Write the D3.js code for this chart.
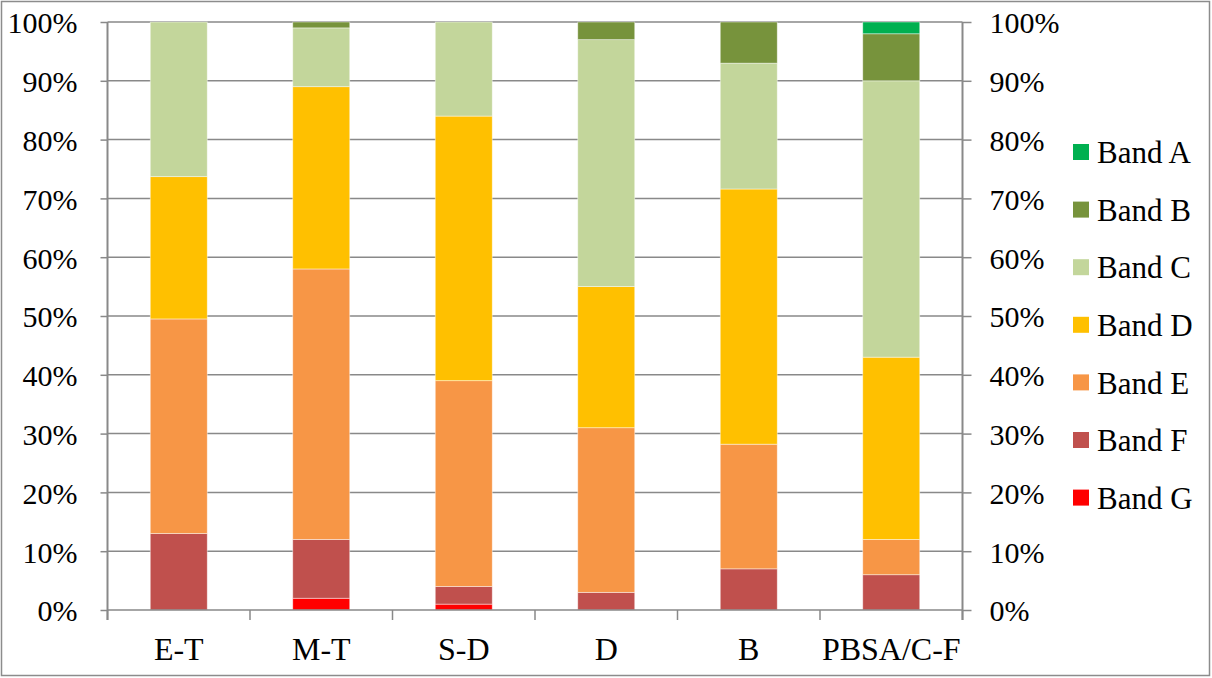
<!DOCTYPE html>
<html>
<head>
<meta charset="utf-8">
<script src="https://cdn.jsdelivr.net/npm/d3@7"></script>
<style>
  html, body { margin: 0; padding: 0; background: #fff; }
  svg { display: block; }
  text { font-family: "Liberation Serif", "Times New Roman", serif; fill: #000; }
</style>
</head>
<body>
<svg id="chart" width="1212" height="678"></svg>
<script>
// Property types along the x axis
const categories = ["E-T", "M-T", "S-D", "D", "B", "PBSA/C-F"];

// Share of each energy band per property type (percent)
const bandA = [0, 0, 0, 0, 0, 2];
const bandB = [0, 1, 0, 3, 7, 8];
const bandC = [26.3, 10, 16, 42, 21.4, 47];
const bandD = [24.2, 31, 45, 24, 43.4, 31];
const bandE = [36.5, 46, 35, 28, 21.2, 6];
const bandF = [13, 10, 3, 3, 7, 6];
const bandG = [0, 2, 1, 0, 0, 0];

const bandNames = ["Band A", "Band B", "Band C", "Band D", "Band E", "Band F", "Band G"];
const bandColors = ["#00B050", "#77933C", "#C3D69B", "#FFC000", "#F79646", "#C0504D", "#FF0000"];
const bandValues = [bandA, bandB, bandC, bandD, bandE, bandF, bandG];

const tickValues = [0, 10, 20, 30, 40, 50, 60, 70, 80, 90, 100];

// Rows for the stack: one object per category
const rows = categories.map((c, i) => {
  const r = { category: c };
  bandNames.forEach((b, j) => { r[b] = bandValues[j][i]; });
  return r;
});

const svg = d3.select("#chart");
const gridColor = "#898989";

// Outer frame
svg.append("rect")
  .attr("x", 1.5).attr("y", 1.5)
  .attr("width", 1208).attr("height", 674)
  .attr("fill", "none").attr("stroke", "#8c8c8c").attr("stroke-width", 1.5);

const plot = { left: 107.5, right: 962.5, top: 22, bottom: 610 };

const x = d3.scaleBand()
  .domain(categories)
  .range([plot.left, plot.right])
  .paddingInner(0.6)
  .paddingOuter(0.3);

const y = d3.scaleLinear().domain([0, 100]).range([plot.bottom, plot.top]);

// Horizontal gridlines
svg.append("g")
  .selectAll("line")
  .data(tickValues.filter(v => v > 0))
  .join("line")
  .attr("x1", plot.left).attr("x2", plot.right)
  .attr("y1", d => y(d)).attr("y2", d => y(d))
  .attr("stroke", gridColor).attr("stroke-width", 1.5);

// Stacked bars, bottom band first
const stackKeys = bandNames.slice().reverse();
const colorOf = d3.scaleOrdinal().domain(bandNames).range(bandColors);
const series = d3.stack().keys(stackKeys)(rows);

svg.append("g")
  .selectAll("g")
  .data(series)
  .join("g")
  .attr("fill", d => colorOf(d.key))
  .selectAll("rect")
  .data(d => d.filter(p => p[1] - p[0] > 0))
  .join("rect")
  .attr("x", d => x(d.data.category))
  .attr("width", x.bandwidth())
  .attr("y", d => y(d[1]))
  .attr("height", d => y(d[0]) - y(d[1]))
  .attr("stroke", "#ffffff")
  .attr("stroke-opacity", 0.55)
  .attr("stroke-width", 0.8);

const fmt = d => d + "%";

// Left axis
const leftAxis = svg.append("g")
  .attr("transform", `translate(${plot.left},0)`)
  .call(d3.axisLeft(y).tickValues(tickValues).tickFormat(fmt).tickSizeInner(7).tickSizeOuter(0).tickPadding(23));

// Right axis
const rightAxis = svg.append("g")
  .attr("transform", `translate(${plot.right},0)`)
  .call(d3.axisRight(y).tickValues(tickValues).tickFormat(fmt).tickSizeInner(9).tickSizeOuter(0).tickPadding(18));

[leftAxis, rightAxis].forEach(g => {
  g.select(".domain").remove();
  g.selectAll(".tick line").attr("stroke", gridColor).attr("stroke-width", 1.5);
  g.selectAll(".tick text")
    .attr("font-family", "Liberation Serif")
    .attr("font-size", 30)
    .attr("dy", "0.36em");
});

// Vertical axis lines extend down to the category tick marks
svg.append("line")
  .attr("x1", plot.left).attr("x2", plot.left)
  .attr("y1", plot.top).attr("y2", plot.bottom + 10)
  .attr("stroke", gridColor).attr("stroke-width", 2);
svg.append("line")
  .attr("x1", plot.right).attr("x2", plot.right)
  .attr("y1", plot.top).attr("y2", plot.bottom + 10)
  .attr("stroke", gridColor).attr("stroke-width", 2);

// Bottom axis: baseline, boundary ticks, category labels
svg.append("line")
  .attr("x1", plot.left).attr("x2", plot.right)
  .attr("y1", plot.bottom).attr("y2", plot.bottom)
  .attr("stroke", gridColor).attr("stroke-width", 1.5);

const step = x.step();
const boundaries = d3.range(categories.length + 1).map(i => plot.left + i * step);
svg.append("g")
  .selectAll("line")
  .data(boundaries)
  .join("line")
  .attr("x1", d => d).attr("x2", d => d)
  .attr("y1", plot.bottom).attr("y2", plot.bottom + 10)
  .attr("stroke", gridColor).attr("stroke-width", 1.5);

svg.append("g")
  .selectAll("text")
  .data(categories)
  .join("text")
  .attr("x", d => x(d) + x.bandwidth() / 2)
  .attr("y", 660)
  .attr("text-anchor", "middle")
  .attr("font-size", 32)
  .text(d => d);

// Legend
const legend = svg.append("g")
  .selectAll("g")
  .data(bandNames)
  .join("g")
  .attr("transform", (d, i) => `translate(1073, ${152 + i * 57.6})`);

legend.append("rect")
  .attr("x", 0).attr("y", -8)
  .attr("width", 16).attr("height", 16)
  .attr("fill", d => colorOf(d));

legend.append("text")
  .attr("x", 24).attr("y", 0)
  .attr("dy", "0.36em")
  .attr("font-size", 31)
  .text(d => d);
</script>
</body>
</html>
